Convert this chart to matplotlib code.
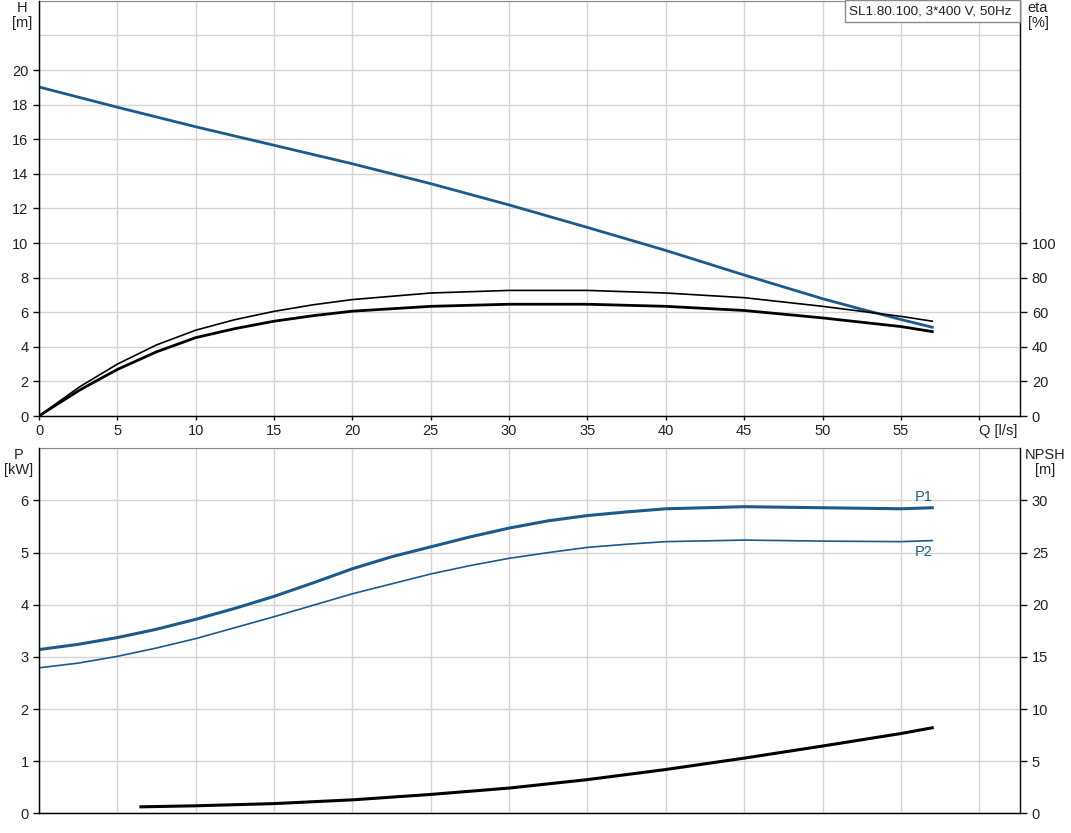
import matplotlib.pyplot as plt
from matplotlib.patches import Rectangle

plt.rcParams['font.family'] = ['Liberation Sans', 'DejaVu Sans']

# Flow Q [l/s] and head H [m]
q_h = [0, 5, 10, 15, 20, 25, 30, 35, 40, 45, 50, 52.5, 55, 57]
head = [19.02, 17.85, 16.72, 15.65, 14.58, 13.43, 12.2, 10.9, 9.57, 8.15, 6.78, 6.17, 5.58, 5.13]

# power P1 / P2 [kW]
q_p = [0, 2.5, 5, 7.5, 10, 12.5, 15, 17.5, 20, 22.5, 25, 27.5, 30, 32.5, 35, 37.5,
       40, 45, 50, 55, 57]
p1 = [3.14, 3.24, 3.37, 3.53, 3.72, 3.93, 4.16, 4.42, 4.69, 4.92, 5.11, 5.30, 5.47,
      5.61, 5.71, 5.78, 5.84, 5.88, 5.86, 5.84, 5.86]
p2 = [2.79, 2.88, 3.01, 3.17, 3.35, 3.56, 3.77, 3.99, 4.21, 4.40, 4.59, 4.75, 4.89,
      5.00, 5.10, 5.16, 5.21, 5.24, 5.22, 5.21, 5.23]

# efficiency [%]
q_eta = [0, 1.3, 2.6, 3.9, 5, 7.5, 10, 12.5, 15, 17.5, 20, 25, 30, 35, 40, 45, 50, 55, 57]
eta_hyd = [0, 8.5, 16.9, 24.0, 30.0, 41.1, 49.6, 55.7, 60.5, 64.3, 67.3, 71.1, 72.6,
           72.6, 71.1, 68.4, 63.4, 57.6, 54.8]
eta_tot = [0, 7.6, 15.0, 21.5, 26.9, 37.1, 45.3, 50.5, 54.8, 58.0, 60.6, 63.4, 64.6,
           64.6, 63.4, 61.0, 56.7, 51.7, 48.8]

# NPSH [m]
q_npsh = [6.5, 10, 15, 20, 25, 30, 35, 40, 45, 50, 55, 57]
npsh = [0.62, 0.72, 0.93, 1.29, 1.81, 2.42, 3.23, 4.2, 5.29, 6.45, 7.65, 8.2]

title = "SL1.80.100, 3*400 V, 50Hz"
x_ticks = list(range(0, 61, 5))

BLUE = '#1b5a8c'
GRID = '#d4d4d4'
TXT = '#222222'

W, H = 1071, 833
fig = plt.figure(figsize=(W / 100, H / 100), dpi=100)

left = 39 / W
width = (1020 - 39) / W
ax1 = fig.add_axes([left, 1 - 416 / H, width, 416 / H - 0.001])
ax2 = fig.add_axes([left, 1 - 813.3 / H, width, (813.3 - 448.3) / H])


def style(ax):
    ax.set_xlim(0, 62.6)
    ax.set_xticks(x_ticks)
    ax.grid(True, which='both', color=GRID, linewidth=1.0)
    ax.set_axisbelow(True)
    for s in ['left', 'bottom', 'right']:
        ax.spines[s].set_color('#111111')
        ax.spines[s].set_linewidth(1.0)
    ax.spines['top'].set_color('#8a8a8a')
    ax.tick_params(which='major', direction='out', length=4, width=1,
                   colors='#111111', labelcolor=TXT, labelsize=10.5)
    ax.tick_params(which='minor', length=0)


# --- top chart: head + efficiency ---
style(ax1)
ax1.set_ylim(0, 24)
ax1.set_yticks(range(0, 21, 2))
ax1.set_yticks([22, 24], minor=True)
ax1.set_xticklabels([str(v) for v in x_ticks[:-1]] + ['Q [l/s]'])
ax1.get_xticklabels()[-1].set_horizontalalignment('left')
ax1.tick_params(axis='x', length=3, pad=3)
ax1.plot(q_h, head, color=BLUE, linewidth=2.0, zorder=4, solid_joinstyle='round')

ax1r = ax1.twinx()
ax1r.set_ylim(0, 240)
ax1r.set_yticks(range(0, 101, 20))
ax1r.spines['right'].set_color('#111111')
ax1r.spines['top'].set_visible(False)
ax1r.tick_params(direction='out', length=5, width=1, colors='#111111',
                 labelcolor=TXT, labelsize=10.5)
ax1r.plot(q_eta, eta_hyd, color='black', linewidth=1.2, zorder=3, solid_joinstyle='round')
ax1r.plot(q_eta, eta_tot, color='black', linewidth=2.0, zorder=3, solid_joinstyle='round')

# title box in the top right corner
fig.patches.append(Rectangle((845 / W, 1 - 22 / H), 175 / W, 22 / H - 0.0006,
                             transform=fig.transFigure, facecolor='white',
                             edgecolor='#8a8a8a', linewidth=1, zorder=10))
fig.text(849 / W, 1 - 11.5 / H, title, ha='left', va='center', fontsize=9.7,
         color=TXT, zorder=11)

# --- bottom chart: power + NPSH ---
style(ax2)
ax2.set_ylim(0, 7)
ax2.set_yticks(range(0, 7))
ax2.set_yticks([7], minor=True)
ax2.tick_params(axis='x', length=0, labelbottom=False)
ax2.plot(q_p, p1, color=BLUE, linewidth=2.2, zorder=4, solid_joinstyle='round')
ax2.plot(q_p, p2, color=BLUE, linewidth=1.2, zorder=4, solid_joinstyle='round')
ax2.text(57, p1[-1] + 0.08, 'P1', color=BLUE, fontsize=10.5, ha='right', va='bottom')
ax2.text(57, p2[-1] - 0.08, 'P2', color=BLUE, fontsize=10.5, ha='right', va='top')

ax2r = ax2.twinx()
ax2r.set_ylim(0, 35)
ax2r.set_yticks(range(0, 31, 5))
ax2r.spines['right'].set_color('#111111')
ax2r.spines['top'].set_visible(False)
ax2r.tick_params(direction='out', length=5, width=1, colors='#111111',
                 labelcolor=TXT, labelsize=10.5)
ax2r.plot(q_npsh, npsh, color='black', linewidth=2.2, zorder=3, solid_joinstyle='round')

# axis unit labels
lab = dict(fontsize=10.5, color=TXT, ha='center', va='top', linespacing=1.05)
fig.text(22 / W, 1 - 1 / H, 'H\n[m]', **lab)
fig.text(1038 / W, 1 - 1 / H, 'eta\n[%]', **lab)
fig.text(19 / W, 1 - 448 / H, 'P\n[kW]', **lab)
fig.text(1045 / W, 1 - 448 / H, 'NPSH\n[m]', **lab)

fig.savefig('out.png', dpi=100)
